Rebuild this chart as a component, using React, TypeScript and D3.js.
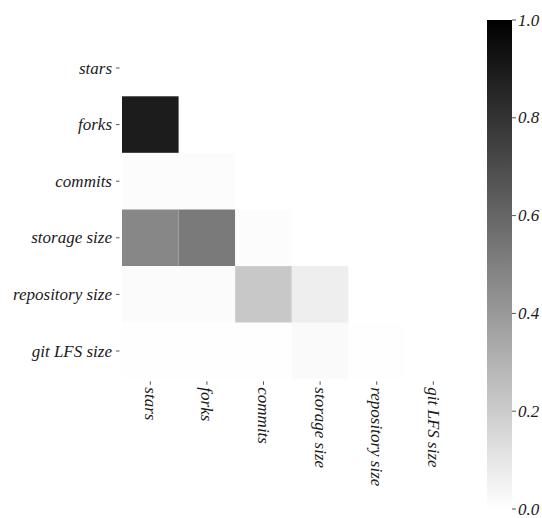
import React from "react";
import * as d3 from "d3";

const labels = ["stars", "forks", "commits", "storage size", "repository size", "git LFS size"];
// lower triangle correlation values: row i, columns 0..i-1
const rowForks = [0.89];
const rowCommits = [0.01, 0.01];
const rowStorage = [0.47, 0.52, 0.012];
const rowRepository = [0.015, 0.015, 0.215, 0.065];
const rowGitLFS = [0.004, 0.004, 0.004, 0.02, 0.004];
const lowerRows = [[], rowForks, rowCommits, rowStorage, rowRepository, rowGitLFS];
const colorbarTicks = [0, 0.2, 0.4, 0.6, 0.8, 1.0];

const W = 542;
const H = 518;
const FONT = "Liberation Serif";

export default function App() {
  const left = 122;
  const top = 39.7;
  const cell = 56.6;
  const x = d3.scaleBand<string>().domain(labels).range([left, left + cell * labels.length]);
  const y = d3.scaleBand<string>().domain(labels).range([top, top + cell * labels.length]);
  const color = d3.scaleLinear<string>().domain([0, 1]).range(["#ffffff", "#000000"]);

  const cbX = 487;
  const cbW = 25;
  const cbY = d3.scaleLinear().domain([0, 1]).range([509, 20]);

  const cells: { r: string; c: string; v: number }[] = [];
  lowerRows.forEach((row, i) => row.forEach((v, j) => cells.push({ r: labels[i], c: labels[j], v })));

  const bottom = top + cell * labels.length;
  const stops = d3.range(0, 1.0001, 0.1);
  const textStyle = { fontFamily: FONT, fontStyle: "italic", fontSize: "17px" } as const;

  return (
    <svg width={W} height={H} style={{ position: "absolute", left: 0, top: 0, background: "#ffffff" }}>
      <defs>
        <linearGradient id="cb" x1="0" y1="1" x2="0" y2="0">
          {stops.map((s) => (
            <stop key={s} offset={s} stopColor={color(s)} />
          ))}
        </linearGradient>
      </defs>
      <rect x={0} y={0} width={W} height={H} fill="#ffffff" />
      {cells.map((d) => (
        <rect
          key={d.r + d.c}
          x={x(d.c)}
          y={y(d.r)}
          width={x.bandwidth()}
          height={y.bandwidth()}
          fill={color(d.v)}
        />
      ))}
      {labels.map((l) => {
        const cy = (y(l) ?? 0) + y.bandwidth() / 2;
        return (
          <g key={"y" + l}>
            <line x1={left - 6} x2={left - 2.5} y1={cy} y2={cy} stroke="#555" strokeWidth={1} />
            <text x={left - 10} y={cy} textAnchor="end" dominantBaseline="central" style={textStyle} fill="#1a1a1a">
              {l}
            </text>
          </g>
        );
      })}
      {labels.map((l) => {
        const cx = (x(l) ?? 0) + x.bandwidth() / 2;
        return (
          <g key={"x" + l}>
            <line x1={cx} x2={cx} y1={bottom + 2} y2={bottom + 5.5} stroke="#555" strokeWidth={1} />
            <text
              transform={`translate(${cx},${bottom + 8}) rotate(90)`}
              x={0}
              y={0}
              textAnchor="start"
              dominantBaseline="central"
              style={textStyle}
              fill="#1a1a1a"
            >
              {l}
            </text>
          </g>
        );
      })}
      <rect x={cbX} y={cbY(1)} width={cbW} height={cbY(0) - cbY(1)} fill="url(#cb)" />
      {colorbarTicks.map((t) => (
        <g key={"c" + t}>
          <line x1={cbX + cbW} x2={cbX + cbW + 4} y1={cbY(t)} y2={cbY(t)} stroke="#555" strokeWidth={1} />
          <text x={cbX + cbW + 6} y={cbY(t)} dominantBaseline="central" style={textStyle} fill="#1a1a1a">
            {d3.format(".1f")(t)}
          </text>
        </g>
      ))}
    </svg>
  );
}
